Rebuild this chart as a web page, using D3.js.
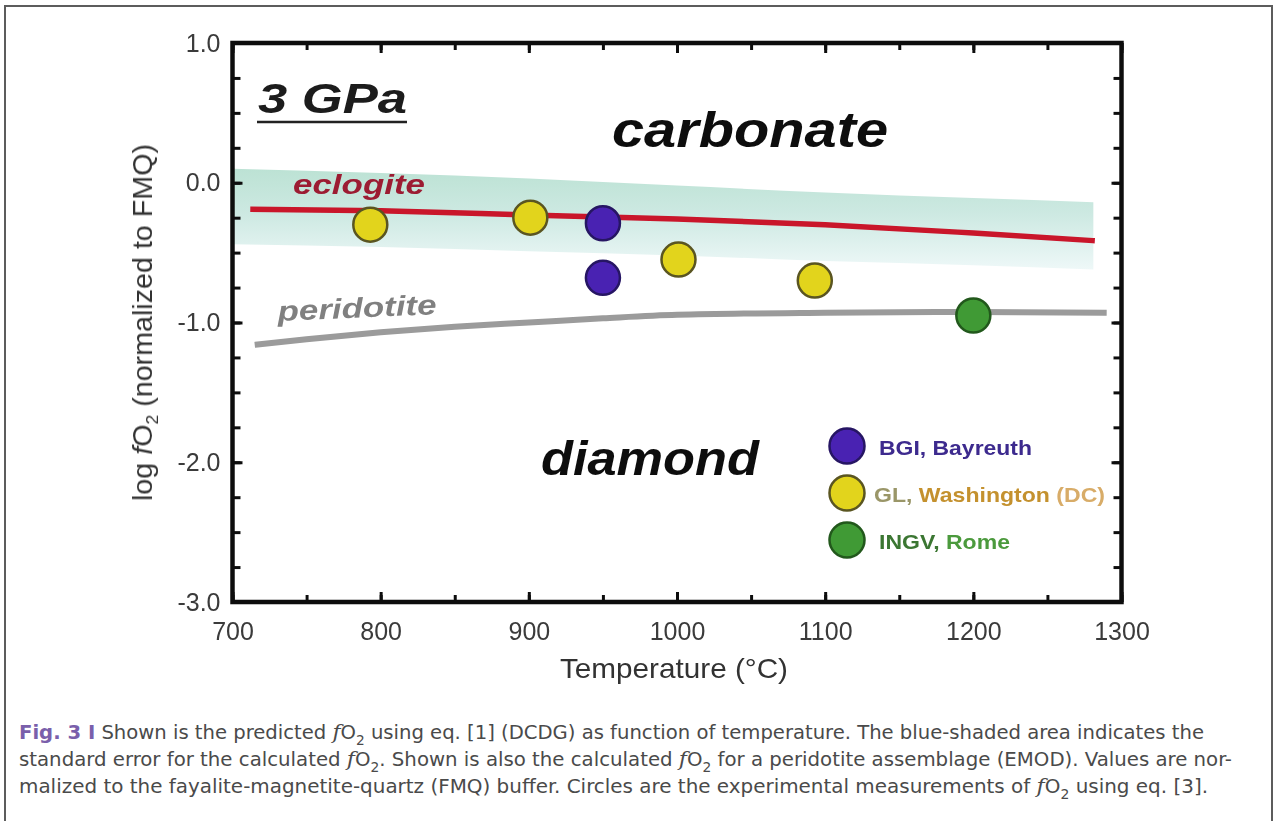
<!DOCTYPE html>
<html>
<head>
<meta charset="utf-8">
<script src="https://cdn.jsdelivr.net/npm/d3@7"></script>
<style>
  html, body { margin: 0; padding: 0; background: #ffffff; }
  svg { display: block; }
</style>
</head>
<body>
<svg id="fig" width="1274" height="821"></svg>
<script>
// ---- data ----------------------------------------------------------------
// temperature axis (°C) and log fO2 axis (normalised to FMQ)
const xDomain = [700, 1300];
const yDomain = [-3, 1];
const xMajorTicks = [700, 800, 900, 1000, 1100, 1200, 1300];
const yMajorTicks = [1.0, 0.0, -1.0, -2.0, -3.0];

// standard-error envelope of the DCDG (eclogite) prediction
const bandT     = [700, 800, 900, 1000, 1100, 1200, 1281];
const bandUpper = [0.10, 0.07, 0.03, -0.02, -0.07, -0.11, -0.14];
const bandLower = [-0.44, -0.46, -0.49, -0.52, -0.56, -0.59, -0.62];

// eclogite (DCDG) curve
const eclogiteT = [712, 800, 900, 950, 1000, 1100, 1200, 1282];
const eclogiteV = [-0.19, -0.20, -0.23, -0.245, -0.26, -0.30, -0.36, -0.415];

// peridotite (EMOD) curve
const peridotiteT = [715, 750, 800, 850, 900, 950, 1000, 1100, 1200, 1290];
const peridotiteV = [-1.16, -1.12, -1.07, -1.03, -1.00, -0.97, -0.945, -0.93, -0.925, -0.93];

// experimental measurements by laboratory
const labs    = ["BGI, Bayreuth", "GL, Washington (DC)", "INGV, Rome"];
const bgiT    = [950, 950];
const bgiV    = [-0.29, -0.68];
const glT     = [793, 901, 1001, 1093];
const glV     = [-0.30, -0.25, -0.55, -0.70];
const ingvT   = [1200];
const ingvV   = [-0.95];

const labFill   = ["#4a24b2", "#e2d41f", "#3f9a34"];
const labStroke = ["#261463", "#5a5520", "#22581c"];

// ---- layout --------------------------------------------------------------
const svg = d3.select("#fig");
const x = d3.scaleLinear().domain(xDomain).range([232.5, 1121.5]);
const y = d3.scaleLinear().domain(yDomain).range([602, 43]);

const defs = svg.append("defs");
defs.append("filter").attr("id", "soft")
  .append("feGaussianBlur").attr("stdDeviation", 0.55);

const band = defs.append("linearGradient").attr("id", "bandGrad")
  .attr("gradientUnits", "userSpaceOnUse")
  .attr("x1", 0).attr("x2", 0).attr("y1", y(0.10)).attr("y2", y(-0.62));
band.append("stop").attr("offset", 0).attr("stop-color", "#bce2d4");
band.append("stop").attr("offset", 0.45).attr("stop-color", "#cde9e2");
band.append("stop").attr("offset", 1).attr("stop-color", "#eef8f8");

// outer figure frame
svg.append("rect")
  .attr("x", 5).attr("y", 6).attr("width", 1267).attr("height", 900)
  .attr("fill", "none").attr("stroke", "#5c5c5c").attr("stroke-width", 2);

const chart = svg.append("g").attr("filter", "url(#soft)");

// error envelope
const bandRows = bandT.map((t, i) => ({ t, hi: bandUpper[i], lo: bandLower[i] }));
chart.append("path")
  .datum(bandRows)
  .attr("fill", "url(#bandGrad)")
  .attr("d", d3.area().curve(d3.curveMonotoneX)
    .x(d => x(d.t)).y0(d => y(d.lo)).y1(d => y(d.hi)));

// peridotite curve
chart.append("path")
  .datum(peridotiteT.map((t, i) => [t, peridotiteV[i]]))
  .attr("fill", "none").attr("stroke", "#9b9b9b").attr("stroke-width", 6)
  .attr("d", d3.line().curve(d3.curveMonotoneX).x(d => x(d[0])).y(d => y(d[1])));

// eclogite curve
chart.append("path")
  .datum(eclogiteT.map((t, i) => [t, eclogiteV[i]]))
  .attr("fill", "none").attr("stroke", "#c9142a").attr("stroke-width", 5.5)
  .attr("d", d3.line().curve(d3.curveMonotoneX).x(d => x(d[0])).y(d => y(d[1])));

// curve labels
chart.append("text")
  .attr("x", 293).attr("y", 194)
  .attr("font-family", "Liberation Sans, Arial, sans-serif")
  .attr("font-size", 28).attr("font-weight", "bold").attr("font-style", "italic")
  .attr("fill", "#9c1a33")
  .attr("textLength", 132).attr("lengthAdjust", "spacingAndGlyphs")
  .text("eclogite");

chart.append("text")
  .attr("transform", "translate(278,321) rotate(-2.5)")
  .attr("font-family", "Liberation Sans, Arial, sans-serif")
  .attr("font-size", 28).attr("font-weight", "bold").attr("font-style", "italic")
  .attr("fill", "#808080")
  .attr("textLength", 159).attr("lengthAdjust", "spacingAndGlyphs")
  .text("peridotite");

// measurements
const pts = [];
bgiT.forEach((t, i) => pts.push({ t, v: bgiV[i], lab: 0 }));
glT.forEach((t, i) => pts.push({ t, v: glV[i], lab: 1 }));
ingvT.forEach((t, i) => pts.push({ t, v: ingvV[i], lab: 2 }));

chart.append("g").selectAll("circle").data(pts).join("circle")
  .attr("cx", d => x(d.t)).attr("cy", d => y(d.v)).attr("r", 17)
  .attr("fill", d => labFill[d.lab]).attr("stroke", d => labStroke[d.lab])
  .attr("stroke-width", 2.5);

// axes: frame plus inward ticks on all four sides
const xMinor = d3.range(700, 1301, 50);
const yMinor = d3.range(-3, 1.001, 0.25);
const tickStyle = g => {
  g.select(".domain").remove();
  g.selectAll(".tick line").attr("stroke", "#111").attr("stroke-width", 3);
};

chart.append("g").attr("transform", `translate(0,${y(-3)})`)
  .call(d3.axisBottom(x).tickValues(xMinor).tickSize(-7).tickFormat(""))
  .call(tickStyle);
chart.append("g").attr("transform", `translate(0,${y(1)})`)
  .call(d3.axisTop(x).tickValues(xMinor).tickSize(-7).tickFormat(""))
  .call(tickStyle);
chart.append("g").attr("transform", `translate(${x(700)},0)`)
  .call(d3.axisLeft(y).tickValues(yMinor).tickSize(-8).tickFormat(""))
  .call(tickStyle);
chart.append("g").attr("transform", `translate(${x(1300)},0)`)
  .call(d3.axisRight(y).tickValues(yMinor).tickSize(-8).tickFormat(""))
  .call(tickStyle);

const xAxis = chart.append("g").attr("transform", `translate(0,${y(-3)})`)
  .call(d3.axisBottom(x).tickValues(xMajorTicks).tickSize(-10).tickPadding(20)
    .tickFormat(d3.format("d")))
  .call(tickStyle);
chart.append("g").attr("transform", `translate(0,${y(1)})`)
  .call(d3.axisTop(x).tickValues(xMajorTicks).tickSize(-10).tickFormat(""))
  .call(tickStyle);
const yAxis = chart.append("g").attr("transform", `translate(${x(700)},0)`)
  .call(d3.axisLeft(y).tickValues(yMajorTicks).tickSize(-10).tickPadding(12)
    .tickFormat(d3.format(".1f")))
  .call(tickStyle);
chart.append("g").attr("transform", `translate(${x(1300)},0)`)
  .call(d3.axisRight(y).tickValues(yMajorTicks).tickSize(-10).tickFormat(""))
  .call(tickStyle);

[xAxis, yAxis].forEach(a => a.selectAll(".tick text")
  .attr("font-family", "Liberation Sans, Arial, sans-serif")
  .attr("font-size", 25).attr("fill", "#3a3a3a"));
yAxis.selectAll(".tick text").text(d => d3.format(".1f")(d).replace("−", "-"));

chart.append("rect")
  .attr("x", x(700)).attr("y", y(1))
  .attr("width", x(1300) - x(700)).attr("height", y(-3) - y(1))
  .attr("fill", "none").attr("stroke", "#111").attr("stroke-width", 4.5);

// axis titles
chart.append("text")
  .attr("x", 674).attr("y", 678).attr("text-anchor", "middle")
  .attr("font-family", "Liberation Sans, Arial, sans-serif")
  .attr("font-size", 28).attr("fill", "#333")
  .attr("textLength", 228).attr("lengthAdjust", "spacingAndGlyphs")
  .text("Temperature (°C)");

const yt = chart.append("text")
  .attr("transform", `translate(152,${(y(1) + y(-3)) / 2}) rotate(-90)`)
  .attr("text-anchor", "middle")
  .attr("font-family", "Liberation Sans, Arial, sans-serif")
  .attr("font-size", 28).attr("fill", "#333")
  .attr("textLength", 357).attr("lengthAdjust", "spacingAndGlyphs");
yt.append("tspan").text("log ");
yt.append("tspan").attr("font-style", "italic").text("f");
yt.append("tspan").text("O");
yt.append("tspan").attr("font-size", 17).attr("dy", 6).text("2");
yt.append("tspan").attr("dy", -6).text(" (normalized to FMQ)");

// region labels
const bigFont = "Liberation Sans, Arial, sans-serif";
chart.append("text")
  .attr("x", 258).attr("y", 113)
  .attr("font-family", bigFont).attr("font-size", 43)
  .attr("font-weight", "bold").attr("font-style", "italic").attr("fill", "#1a1a1a")
  .attr("textLength", 149).attr("lengthAdjust", "spacingAndGlyphs")
  .text("3 GPa");
chart.append("line")
  .attr("x1", 257).attr("x2", 407).attr("y1", 122).attr("y2", 122)
  .attr("stroke", "#222").attr("stroke-width", 2.5);

chart.append("text")
  .attr("x", 612).attr("y", 147)
  .attr("font-family", bigFont).attr("font-size", 50)
  .attr("font-weight", "bold").attr("font-style", "italic").attr("fill", "#111")
  .attr("textLength", 276).attr("lengthAdjust", "spacingAndGlyphs")
  .text("carbonate");

chart.append("text")
  .attr("x", 541).attr("y", 475)
  .attr("font-family", bigFont).attr("font-size", 48)
  .attr("font-weight", "bold").attr("font-style", "italic").attr("fill", "#111")
  .attr("textLength", 218).attr("lengthAdjust", "spacingAndGlyphs")
  .text("diamond");

// legend
const legY = [446, 493, 540];
const legTextX = [879, 874, 879];
const legLen = [153, 231, 131];
const legend = chart.append("g");
legend.selectAll("circle").data(labs).join("circle")
  .attr("cx", 847).attr("cy", (d, i) => legY[i]).attr("r", 17.5)
  .attr("fill", (d, i) => labFill[i]).attr("stroke", (d, i) => labStroke[i])
  .attr("stroke-width", 2.5);

const legText = (i, parts) => {
  const t = legend.append("text")
    .attr("x", legTextX[i]).attr("y", legY[i] + 9)
    .attr("font-family", "Liberation Sans, Arial, sans-serif")
    .attr("font-size", 21).attr("font-weight", "bold")
    .attr("textLength", legLen[i]).attr("lengthAdjust", "spacingAndGlyphs");
  parts.forEach(([s, c]) => t.append("tspan").attr("fill", c).text(s));
};
legText(0, [[labs[0], "#3d2b8e"]]);
legText(1, [["GL, ", "#9a9668"], ["Washington ", "#c4912e"], ["(DC)", "#d8ac68"]]);
legText(2, [["INGV, ", "#3b7632"], ["Rome", "#4c9a3d"]]);

// ---- caption -------------------------------------------------------------
const capFont = "'Liberation Sans Narrow', 'DejaVu Sans Condensed', 'Roboto Condensed', sans-serif";
const capLines = [
  { y: 739, len: 1185, parts: [
      ["Fig. 3 I", "label"], [" Shown is the predicted ", ""], ["fO2", "fo2"],
      [" using eq. [1] (DCDG) as function of temperature. The blue-shaded area indicates the", ""]] },
  { y: 766, len: 1213, parts: [
      ["standard error for the calculated ", ""], ["fO2", "fo2"],
      [". Shown is also the calculated ", ""], ["fO2", "fo2"],
      [" for a peridotite assemblage (EMOD). Values are nor-", ""]] },
  { y: 793, len: 1189, parts: [
      ["malized to the fayalite-magnetite-quartz (FMQ) buffer. Circles are the experimental measurements of ", ""],
      ["fO2", "fo2"], [" using eq. [3].", ""]] }
];

const cap = svg.append("g")
  .attr("font-family", capFont).attr("font-size", 20).attr("fill", "#4a4a4a");
capLines.forEach(line => {
  const t = cap.append("text").attr("x", 19).attr("y", line.y)
    .attr("textLength", line.len).attr("lengthAdjust", "spacingAndGlyphs");
  let pendingDy = 0;   // restores the baseline after a subscript
  const add = (s) => {
    const ts = t.append("tspan").text(s);
    if (pendingDy) { ts.attr("dy", pendingDy); pendingDy = 0; }
    return ts;
  };
  line.parts.forEach(([s, kind]) => {
    if (kind === "label") {
      add(s).attr("fill", "#7a5fab").attr("font-weight", "bold");
    } else if (kind === "fo2") {
      add("f").attr("font-family", "'DejaVu Serif', serif").attr("font-style", "italic");
      add("O");
      add("2").attr("font-size", 14).attr("dy", 6);
      pendingDy = -6;
    } else {
      add(s);
    }
  });
});
</script>
</body>
</html>
